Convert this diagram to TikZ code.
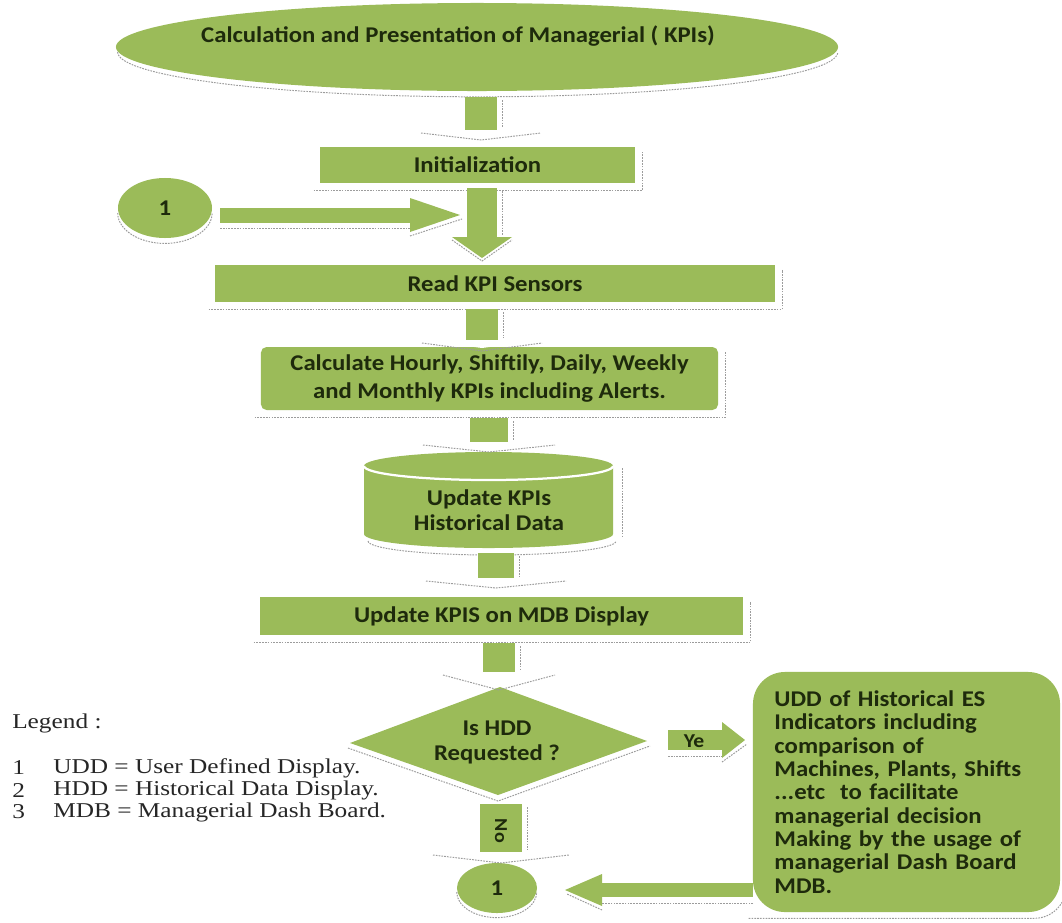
\documentclass[tikz,border=0pt]{standalone}
\usepackage{fontspec}
\setmainfont{Liberation Serif}
\newfontfamily\boxfont{Carlito}[FakeStretch=1.1]
\newfontfamily\legendfamily{Liberation Serif}[FakeStretch=1.2]
\usetikzlibrary{calc,shapes.geometric}
\definecolor{kpigreen}{HTML}{9BBB59}
\definecolor{kpitext}{HTML}{1E2A0C}
\definecolor{shadowgray}{HTML}{9C9C9C}
\definecolor{legendtext}{HTML}{262626}
\newcommand\flowfont{\boxfont\bfseries\fontsize{16}{19}\selectfont}

% vertical block arrow: start, tip, shaft half-width, head half-width, head length, head fill
\newcommand\vblockarrow[6]{%
  \fill[kpigreen] ($(#1)+(-#3,0)$) rectangle ($(#2)+(#3,#5)$);
  \fill[#6] ($(#2)+(-#4,#5)$) -- (#2) -- ($(#2)+(#4,#5)$) -- cycle;
  \draw[shadowline] ($(#2)+(-#4,#5-3)$) -- ($(#2)+(0,-3)$) -- ($(#2)+(#4,#5-3)$);
  \draw[shadowline] ($(#1)+(#3+5,-3)$) -- ($(#2)+(#3+5,#5+2)$);
}
% horizontal block arrow: start, tip, shaft half-width, head half-width, signed offset of the head base
\newcommand\hblockarrow[5]{%
  \fill[kpigreen] ($(#1)+(0,-#3)$) rectangle ($(#2)+(#5,#3)$);
  \fill[kpigreen] ($(#2)+(#5,#4)$) -- (#2) -- ($(#2)+(#5,-#4)$) -- cycle;
  \draw[shadowline] ($(#1)+(0,-#3-6)$) -- ($(#2)+(#5,-#3-6)$);
  \draw[shadowline] ($(#2)+(#5,-#4-4)$) -- ($(#2)+(2,-4)$);
}
% dotted drop shadow under and right of a rectangular node
\newcommand\boxshadow[1]{%
  \draw[shadowline] ($(#1.south west)+(-6,-7)$) -- ($(#1.south east)+(7,-7)$) -- ($(#1.north east)+(7,-5)$);
}

\begin{document}
\begin{tikzpicture}[x=0.025cm, y=0.025cm,
  shadowline/.style={draw=shadowgray, line width=0.7pt, dash pattern=on 1.2pt off 0.8pt},
  flowbox/.style={fill=kpigreen, text=kpitext, font=\flowfont, align=center, inner sep=0pt},
  flowtext/.style={text=kpitext, font=\flowfont, align=center, inner sep=0pt},
  legendfont/.style={text=legendtext, font=\legendfamily\fontsize{15}{15}\selectfont, inner sep=0pt, anchor=west}
]
\useasboundingbox (0,0) rectangle (1062,-922);

% ---- title terminator
\node[ellipse, fill=kpigreen, minimum width=18.05cm, minimum height=2.2cm, inner sep=0pt] (top) at (477,-47) {};
\draw[shadowline] ($(top.west)+(2,-5)$) arc[start angle=180, end angle=360, x radius=9.0cm, y radius=1.12cm];
\node[flowtext] (toptext) at (458,-36) {Calculation and Presentation of Managerial ( KPIs)};

% ---- process boxes
\node[flowbox, minimum width=7.875cm, minimum height=0.9cm] (init) at (477.5,-165) {Initialization};
\node[flowbox, minimum width=14cm, minimum height=0.925cm] (read) at (495,-283.5) {Read KPI Sensors};
\node[flowbox, minimum width=11.425cm, minimum height=1.575cm, rounded corners=4pt,
      font=\boxfont\bfseries\fontsize{16}{20.5}\selectfont] (calc) at (489.5,-378.5)
      {Calculate Hourly, Shiftily, Daily, Weekly\\and Monthly KPIs including Alerts.};
\node[flowbox, minimum width=12.075cm, minimum height=0.95cm] (upd) at (501.5,-616) {Update KPIS on MDB Display};
\boxshadow{init}
\boxshadow{read}
\boxshadow{calc}
\boxshadow{upd}

% ---- data store (cylinder)
\fill[kpigreen] (364,-466) -- (364,-534)
  arc[start angle=180, end angle=360, x radius=3.1125cm, y radius=0.35cm] -- (613,-466)
  arc[start angle=0, end angle=180, x radius=3.1125cm, y radius=0.35cm] -- cycle;
\draw[white, line width=1.6pt] (364,-466) arc[start angle=180, end angle=360, x radius=3.1125cm, y radius=0.35cm];
\draw[shadowline] (622,-468) -- (622,-538);
\draw[shadowline] (368,-541) arc[start angle=180, end angle=360, x radius=3.1cm, y radius=0.35cm];
\node[flowtext, font=\boxfont\bfseries\fontsize{16}{17.8}\selectfont] (store) at (489,-510) {Update KPIs\\Historical Data};

% ---- decision
\coordinate (dt) at (500,-687);
\coordinate (dr) at (647,-741);
\coordinate (db) at (498,-795);
\coordinate (dl) at (350,-743);
\fill[kpigreen] (dt) -- (dr) -- (db) -- (dl) -- cycle;
\draw[shadowline] ($(dl)+(-2,-5)$) -- ($(db)+(0,-6)$) -- ($(dr)+(3,-5)$);
\node[flowtext, font=\boxfont\bfseries\fontsize{16}{17.8}\selectfont] (dec) at (497,-742) {Is HDD\\Requested ?};

% ---- note box
\node[fill=kpigreen, text=kpitext, minimum width=7.675cm, minimum height=6cm, rounded corners=0.8cm,
      text width=6.6cm, align=left, inner xsep=0.53cm, inner ysep=0pt,
      font=\boxfont\bfseries\fontsize{16}{16.6}\selectfont] (udd) at (906.5,-792)
  {UDD of Historical ES\\Indicators including\\comparison of\\Machines, Plants, Shifts\\...etc\ \ to facilitate\\managerial decision\\Making by the usage of\\managerial Dash Board\\MDB.};
\draw[shadowline, rounded corners=0.8cm] ($(udd.south west)+(-4,-6)$) -- ($(udd.south east)+(6,-6)$) -- ($(udd.north east)+(6,-10)$);

% ---- connectors (on-page references)
\node[ellipse, fill=kpigreen, minimum width=2.35cm, minimum height=1.5cm, inner sep=0pt, font=\flowfont, text=kpitext] (c1) at (165,-208) {1};
\draw[shadowline] ($(c1.west)+(0,-5)$) arc[start angle=180, end angle=360, x radius=1.18cm, y radius=0.76cm];
\node[ellipse, fill=kpigreen, minimum width=2cm, minimum height=1.25cm, inner sep=0pt, font=\flowfont, text=kpitext] (c2) at (497,-888) {1};
\draw[shadowline] ($(c2.west)+(0,-4)$) arc[start angle=180, end angle=360, x radius=1cm, y radius=0.64cm];

% ---- block arrows
\coordinate (a1s) at (481,-97);  \coordinate (a1t) at (481,-137);
\vblockarrow{a1s}{a1t}{16}{60}{7}{white}
\coordinate (a2s) at (482,-188); \coordinate (a2t) at (482,-258);
\vblockarrow{a2s}{a2t}{15}{30}{21}{kpigreen}
\coordinate (a4s) at (482,-309); \coordinate (a4t) at (482,-348);
\vblockarrow{a4s}{a4t}{16}{60}{8}{white}
\coordinate (a5s) at (489,-418); \coordinate (a5t) at (489,-449);
\vblockarrow{a5s}{a5t}{19}{66}{7}{white}
\coordinate (a6s) at (496,-553); \coordinate (a6t) at (496,-585);
\vblockarrow{a6s}{a6t}{18}{70}{7}{white}
\coordinate (a7s) at (499,-643); \coordinate (a7t) at (499,-687);
\vblockarrow{a7s}{a7t}{16}{56}{15}{white}
\coordinate (a8s) at (501,-804); \coordinate (a8t) at (501,-860);
\vblockarrow{a8s}{a8t}{21}{68}{8}{white}

\coordinate (a3s) at (220,-215); \coordinate (a3t) at (460,-215);
\hblockarrow{a3s}{a3t}{7.5}{17}{-50}
\coordinate (a9s) at (668,-740); \coordinate (a9t) at (745,-740);
\hblockarrow{a9s}{a9t}{10}{18}{-23}
\coordinate (a10s) at (753,-890); \coordinate (a10t) at (565,-890);
\hblockarrow{a10s}{a10t}{7}{16}{37}

\node[flowtext, font=\boxfont\bfseries\fontsize{14}{14}\selectfont] (ye) at (694,-741) {Ye};
\node[flowtext, rotate=-90, font=\boxfont\bfseries\fontsize{13}{13}\selectfont] (no) at (501,-831) {No};

% ---- legend
\node[legendfont] (leg) at (12,-723) {Legend :};
\node[legendfont] (l1n) at (12,-768) {1};
\node[legendfont] (l1) at (53,-768) {UDD = User Defined Display.};
\node[legendfont] (l2n) at (12,-790) {2};
\node[legendfont] (l2) at (53,-790) {HDD = Historical Data Display.};
\node[legendfont] (l3n) at (12,-812) {3};
\node[legendfont] (l3) at (53,-812) {MDB = Managerial Dash Board.};
\end{tikzpicture}
\end{document}
